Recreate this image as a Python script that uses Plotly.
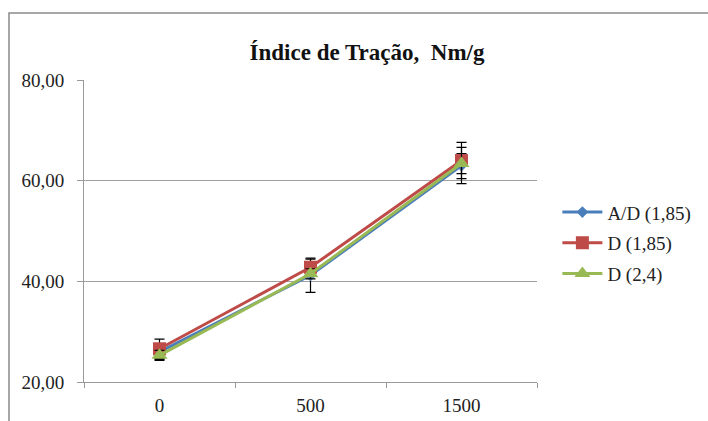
import plotly.graph_objects as go

categories = ["0", "500", "1500"]
series_names = ["A/D (1,85)", "D (1,85)", "D (2,4)"]
ad_185 = [26.0, 41.2, 63.0]
d_185 = [26.6, 42.8, 64.0]
d_24 = [25.3, 41.5, 63.4]
ad_185_err = [1.5, 3.4, 3.6]
d_185_err = [1.9, 1.6, 3.6]
d_24_err = [1.0, 1.0, 2.0]
y_ticks = [20, 40, 60, 80]

colors = ["#4a7ebb", "#be4b48", "#98b954"]
symbols = ["diamond", "square", "triangle-up"]
sizes = [9, 13, 14]
values = [ad_185, d_185, d_24]
errs = [ad_185_err, d_185_err, d_24_err]

fig = go.Figure()
for i in range(3):
    fig.add_trace(go.Scatter(
        x=categories, y=values[i], name=series_names[i], mode="lines+markers",
        line=dict(color=colors[i], width=3),
        marker=dict(symbol=symbols[i], size=sizes[i], color=colors[i]),
        error_y=dict(type="data", array=errs[i], visible=True, color="black",
                     thickness=1.2, width=5),
        legendgroup=f"g{i}",
    ))

serif = "Liberation Serif"
fig.update_layout(
    width=708, height=421,
    margin=dict(l=84, r=165, t=80, b=39),
    paper_bgcolor="white", plot_bgcolor="white",
    separators=",.",
    font=dict(family=serif, size=19, color="#222"),
    title=dict(text="<b>Índice de Tração,  Nm/g</b>", x=367/708, xanchor="center",
               y=1 - 52/421, yanchor="middle",
               font=dict(family=serif, size=23, color="#111")),
    showlegend=True,
    legend=dict(x=1.045, y=0.625, xanchor="left", yanchor="top",
                font=dict(family=serif, size=19, color="#222"),
                traceorder="grouped", tracegroupgap=3, itemwidth=40,
                bgcolor="rgba(0,0,0,0)"),
    xaxis=dict(type="category", range=[-0.5, 2.5],
               showline=True, linecolor="#9a9a9a", linewidth=1,
               ticks="outside", tickson="boundaries", ticklen=5, tickcolor="#9a9a9a",
               ticklabelstandoff=6, automargin=False,
               showgrid=False, tickfont=dict(family=serif, size=19, color="#222")),
    yaxis=dict(range=[20, 80], tickvals=y_ticks, tickformat=".2f",
               showline=True, linecolor="#9a9a9a", linewidth=1,
               ticks="outside", ticklen=6, tickcolor="#9a9a9a",
               ticklabelstandoff=9, automargin=False,
               showgrid=True, gridcolor="#a0a0a0", gridwidth=1, zeroline=False,
               tickfont=dict(family=serif, size=19, color="#222")),
    shapes=[dict(type="rect", xref="paper", yref="paper",
                 x0=(8 - 84) / 459, x1=1.5, y0=-0.3, y1=(382 - 13) / 302,
                 line=dict(color="#8a8a8a", width=1.5), layer="below")],
)

fig.write_html("out.html")
